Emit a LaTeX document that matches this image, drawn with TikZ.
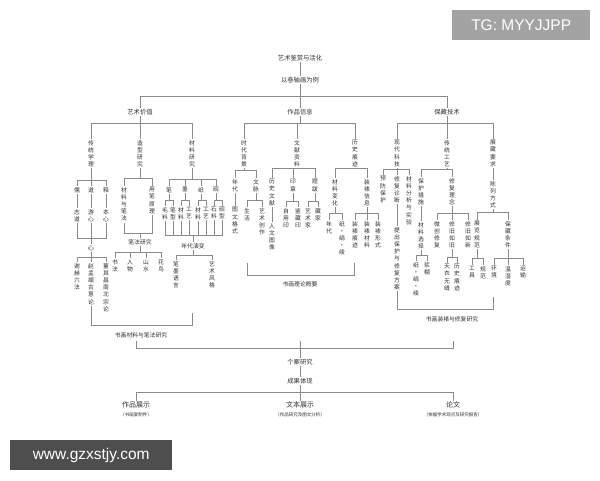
\documentclass[tikz,border=0pt]{standalone}
\usepackage{fontspec}
\newfontfamily\cjk{Noto Sans CJK SC}
\newfontfamily\wmfont{Liberation Sans}
\definecolor{linegray}{HTML}{8A8A8A}
\definecolor{txt}{HTML}{303030}
\definecolor{wmtop}{HTML}{A3A3A3}
\definecolor{wmbot}{HTML}{4E4E4E}
\ExplSyntaxOn
\NewDocumentCommand \vt { m }
  {
    \vbox { \baselineskip = 7.2pt \lineskiplimit = -20pt
      \tl_map_inline:nn {#1} { \hbox_to_wd:nn {7pt} { \hss ##1 \hss } } }
  }
\ExplSyntaxOff
\newcommand\brnch[3]{%
  \path (0,#2) coordinate (tmpy);
  \draw[conn] (#1.south) -- (#1.south |- tmpy);
  \foreach \kid in {#3}{\draw[conn] (#1.south |- tmpy) -| (\kid.north);}
}
\newcommand\mrg[3]{%
  \path (0,#2) coordinate (tmpy);
  \draw[conn] (#3.north) -- (#3.north |- tmpy);
  \foreach \kid in {#1}{\draw[conn] (\kid.south) |- (#3.north |- tmpy);}
}
\tikzset{
  conn/.style={draw=linegray, line width=0.6pt},
  hlab/.style={font=\cjk\fontsize{5.8}{7}\selectfont, inner sep=1pt, text=txt},
  vlab/.style={hlab, anchor=north},
  biglab/.style={hlab, font=\cjk\fontsize{6.3}{7}\selectfont},
  endlab/.style={hlab, font=\cjk\fontsize{7}{8}\selectfont},
  sublab/.style={hlab, font=\cjk\fontsize{4.5}{5}\selectfont},
}
\begin{document}
\begin{tikzpicture}[x=1pt,y=-1pt]
\useasboundingbox (0,0) rectangle (600,480);
\fill[white] (0,0) rectangle (600,480);
% top
\node[biglab] (t0) at (300,58) {艺术鉴赏与活化};
\node[biglab] (t1) at (300,80) {以卷轴画为例};
\draw[conn] (t0) -- (t1);
\node[biglab] (A) at (140,112) {艺术价值};
\node[biglab] (B) at (300,112) {作品信息};
\node[biglab] (C) at (447,112) {保藏技术};
\brnch{t1}{96}{A,B,C}
% level 3
\node[vlab] (a1) at (91,139) {\vt{传统学理}};
\node[vlab] (a2) at (140,139) {\vt{造型研究}};
\node[vlab] (a3) at (192,139) {\vt{材料研究}};
\node[vlab] (b1) at (244,139) {\vt{时代背景}};
\node[vlab] (b2) at (297,139) {\vt{文献资料}};
\node[vlab] (b3) at (355,139) {\vt{历史痕迹}};
\node[vlab] (c1) at (397,139) {\vt{现代科技}};
\node[vlab] (c2) at (447,139) {\vt{传统工艺}};
\node[vlab] (c3) at (493,139) {\vt{展藏要求}};
\brnch{A}{123}{a1,a2,a3}
\brnch{B}{123}{b1,b2,b3}
\brnch{C}{123}{c1,c2,c3}
% A1
\node[vlab] (ru) at (77,186) {\vt{儒}};
\node[vlab] (dao) at (91,186) {\vt{道}};
\node[vlab] (shi) at (106,186) {\vt{释}};
\brnch{a1}{180}{ru,dao,shi}
\node[vlab] (zd) at (77,208) {\vt{志道}};
\node[vlab] (yx) at (91,208) {\vt{游心}};
\node[vlab] (bx) at (106,208) {\vt{本心}};
\draw[conn] (ru.south) -- (zd.north);
\draw[conn] (dao.south) -- (yx.north);
\draw[conn] (shi.south) -- (bx.north);
\node[biglab] (xin) at (91,248) {心};
\mrg{zd,yx,bx}{238}{xin}
\node[vlab] (xh) at (77,262) {\vt{谢赫六法}};
\node[vlab] (zm) at (91,262) {\vt{赵孟頫古意论}};
\node[vlab] (dq) at (106,262) {\vt{董其昌南北宗论}};
\brnch{xin}{257}{xh,zm,dq}
% A2
\node[vlab] (clbf) at (124,186) {\vt{材料与笔法}};
\node[vlab] (ybyl) at (152,186) {\vt{用笔原理}};
\brnch{a2}{178}{clbf,ybyl}
\node[hlab] (bfyj) at (140,242) {笔法研究};
\mrg{clbf,ybyl}{233}{bfyj}
\node[vlab] (sf) at (115,258) {\vt{书法}};
\node[vlab] (rw) at (130,258) {\vt{人物}};
\node[vlab] (ss) at (146,258) {\vt{山水}};
\node[vlab] (hn) at (161,258) {\vt{花鸟}};
\brnch{bfyj}{252}{sf,rw,ss,hn}
% A3
\node[vlab] (bi) at (169,186) {\vt{笔}};
\node[vlab] (mo) at (185,186) {\vt{墨}};
\node[vlab] (zhi) at (201,186) {\vt{纸}};
\node[vlab] (yan) at (216,186) {\vt{砚}};
\brnch{a3}{179}{bi,mo,zhi,yan}
\node[vlab] (ml) at (165,206) {\vt{毛料}};
\node[vlab] (bxg) at (173,206) {\vt{笔型}};
\node[vlab] (mcl) at (181,206) {\vt{材料}};
\node[vlab] (mgy) at (189,206) {\vt{工艺}};
\node[vlab] (zcl) at (198,206) {\vt{材料}};
\node[vlab] (zgy) at (206,206) {\vt{工艺}};
\node[vlab] (sl) at (214,206) {\vt{石料}};
\node[vlab] (yxg) at (222,206) {\vt{砚型}};
\brnch{bi}{200}{ml,bxg}
\brnch{mo}{200}{mcl,mgy}
\brnch{zhi}{200}{zcl,zgy}
\brnch{yan}{200}{sl,yxg}
\node[hlab] (ndyb) at (193,246) {年代演变};
\mrg{ml,bxg,mcl,mgy,zcl,zgy,sl,yxg}{235}{ndyb}
\node[vlab] (bmyy) at (176,260) {\vt{笔墨语言}};
\node[vlab] (ysfg) at (212,260) {\vt{艺术风格}};
\brnch{ndyb}{255}{bmyy,ysfg}
% left summary
\coordinate (Lr) at (192,313);
\path (0,325) coordinate (yL);
\draw[conn] (zm.south) |- (Lr |- yL) -- (Lr);
\node[hlab] (L1) at (141,335) {书画材料与笔法研究};
% B1
\node[vlab] (nd) at (235,178) {\vt{年代}};
\node[vlab] (wm) at (256,178) {\vt{文脉}};
\brnch{b1}{170}{nd,wm}
\node[vlab] (twgs) at (235,206) {\vt{图文格式}};
\draw[conn] (nd.south) -- (twgs.north);
\node[vlab] (sh) at (247,207) {\vt{生活}};
\node[vlab] (yscz) at (262,207) {\vt{艺术创作}};
\brnch{wm}{200}{sh,yscz}
% B2
\node[vlab] (lswx) at (272,178) {\vt{历史文献}};
\node[vlab] (yz) at (293,178) {\vt{印章}};
\node[vlab] (tb) at (315,178) {\vt{题跋}};
\brnch{b2}{168}{lswx,yz,tb}
\node[vlab] (rwtx) at (272,222) {\vt{人文图像}};
\draw[conn] (lswx.south) -- (rwtx.north);
\node[vlab] (zyy) at (286,207) {\vt{自用印}};
\node[vlab] (jcy) at (298,207) {\vt{鉴藏印}};
\brnch{yz}{201}{zyy,jcy}
\node[vlab] (ysj) at (308,207) {\vt{艺术家}};
\node[vlab] (cj) at (318,207) {\vt{藏家}};
\brnch{tb}{201}{ysj,cj}
% B3
\node[vlab] (clbh) at (335,178) {\vt{材料变化}};
\node[vlab] (zbxx) at (367,178) {\vt{装裱信息}};
\brnch{b3}{168}{clbh,zbxx}
\node[vlab] (ndb) at (329,220) {\vt{年代}};
\node[vlab] (zjl) at (342,220) {\vt{纸·绢·绫}};
\brnch{clbh}{213}{ndb,zjl}
\node[vlab] (zbhj) at (355,220) {\vt{装裱痕迹}};
\node[vlab] (zbcl) at (367,220) {\vt{装裱材料}};
\node[vlab] (zbxs) at (378,220) {\vt{装裱形式}};
\brnch{zbxx}{213}{zbhj,zbcl,zbxs}
% middle summary
\coordinate (Ml) at (247,263);
\coordinate (Mr) at (354,263);
\path (0,275) coordinate (yM);
\draw[conn] (Ml) -- (Ml |- yM) -- (Mr |- yM) -- (Mr);
\node[hlab] (M1) at (300,284) {书画理论概要};
% C1
\node[vlab] (yfbh) at (383,175) {\vt{预防保护}};
\node[vlab] (xfzd) at (397,175) {\vt{修复诊断}};
\node[vlab] (clfx) at (409,175) {\vt{材料分析与实验}};
\brnch{c1}{169}{yfbh,xfzd,clfx}
\node[vlab] (tcbh) at (397,226) {\vt{提出保护与修复方案}};
\draw[conn] (xfzd.south) -- (tcbh.north);
% C2
\node[vlab] (bhcs) at (421,177) {\vt{保护措施}};
\node[vlab] (xfln) at (452,177) {\vt{修复理念}};
\brnch{c2}{169}{bhcs,xfln}
\node[vlab] (clxz) at (421,221) {\vt{材料选择}};
\draw[conn] (bhcs.south) -- (clxz.north);
\node[vlab] (zjlb) at (416,261) {\vt{纸·绢·绫}};
\node[vlab] (jh) at (427,261) {\vt{浆糊}};
\brnch{clxz}{255}{zjlb,jh}
\node[vlab] (wcxf) at (437,220) {\vt{微创修复}};
\node[vlab] (xjrj) at (452,220) {\vt{修旧如旧}};
\node[vlab] (xjrx) at (468,220) {\vt{修旧如新}};
\brnch{xfln}{213}{wcxf,xjrj,xjrx}
\node[vlab] (tywf) at (447,263) {\vt{天衣无缝}};
\node[vlab] (lshj) at (457,263) {\vt{历史痕迹}};
\brnch{xjrj}{257}{tywf,lshj}
% C3
\node[vlab] (clfs) at (493,180) {\vt{陈列方式}};
\draw[conn] (c3.south) -- (clfs.north);
\node[vlab] (zlgf) at (477,220) {\vt{展览规范}};
\node[vlab] (bctj) at (508,220) {\vt{保藏条件}};
\brnch{clfs}{212}{zlgf,bctj}
\node[vlab] (gj) at (472,265) {\vt{工具}};
\node[vlab] (gf) at (483,265) {\vt{规范}};
\brnch{zlgf}{258}{gj,gf}
\node[vlab] (hj) at (494,265) {\vt{环境}};
\node[vlab] (wsd) at (508,265) {\vt{温湿度}};
\node[vlab] (ys) at (523,265) {\vt{运输}};
\brnch{bctj}{258}{hj,wsd,ys}
% right summary
\coordinate (Rr) at (493,297);
\path (0,309) coordinate (yR);
\draw[conn] (tcbh.south) |- (Rr |- yR) -- (Rr);
\node[hlab] (R1) at (452,319) {书画装裱与修复研究};
% bottom
\coordinate (bl) at (136,341);
\coordinate (bm) at (300,341);
\coordinate (br) at (453,341);
\path (0,348) coordinate (yB);
\draw[conn] (bl) -- (bl |- yB) -- (br |- yB) -- (br);
\draw[conn] (bm) -- (bm |- yB);
\node[biglab] (K1) at (300,362) {个案研究};
\draw[conn] (bm |- yB) -- (K1.north);
\node[biglab] (K2) at (300,381) {成果体现};
\draw[conn] (K1) -- (K2);
\node[endlab] (P1) at (136,405) {作品展示};
\node[endlab] (P2) at (300,405) {文本展示};
\node[endlab] (P3) at (453,405) {论文};
\brnch{K2}{392}{P1,P2,P3}
\node[sublab] (s1) at (136,414.5) {（书画复制件）};
\node[sublab] (s2) at (300,414.5) {（作品研究及图文分析）};
\node[sublab] (s3) at (453,414.5) {（依据学术观点及研究报告）};
% watermarks
\node[fill=wmtop, text=white, font=\wmfont\fontsize{15.5}{16}\selectfont, minimum width=138pt, minimum height=30pt, inner sep=0pt, anchor=north west] (wmA) at (452,10) {TG: MYYJJPP};
\node[fill=wmbot, text=white, font=\wmfont\fontsize{15.5}{16}\selectfont, minimum width=162pt, minimum height=30pt, inner sep=0pt, anchor=north west] (wmB) at (10,440) {www.gzxstjy.com};
\end{tikzpicture}
\end{document}
